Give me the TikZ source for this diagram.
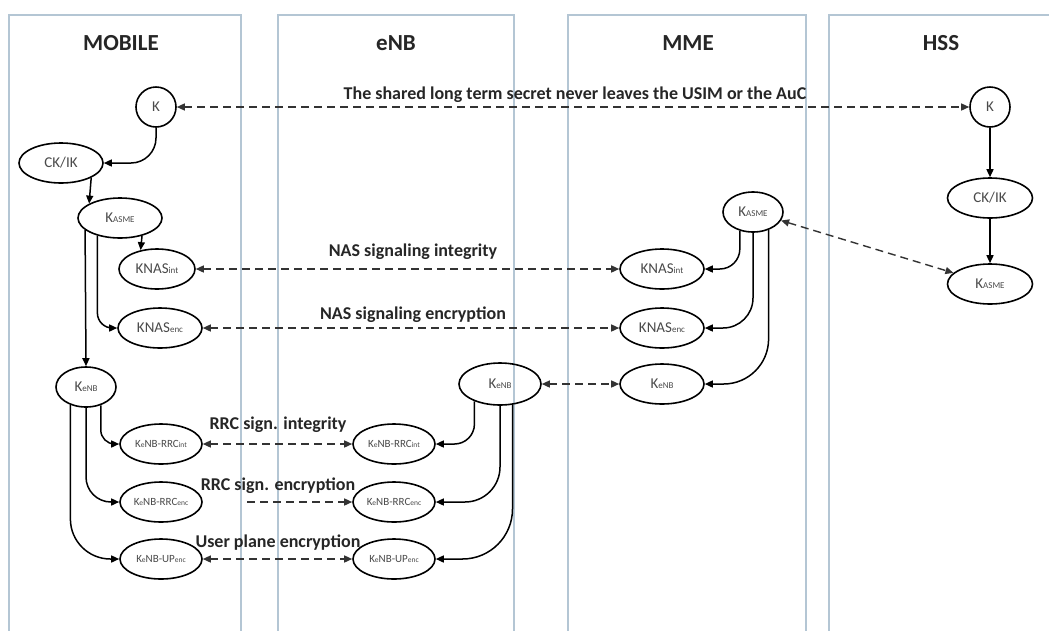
\documentclass[tikz,border=0pt]{standalone}
\usepackage{fontspec}
\setmainfont{Carlito}
\usetikzlibrary{shapes.geometric,arrows.meta}
\definecolor{lanecol}{HTML}{B4C6D4}
\definecolor{nodetxt}{HTML}{4A4A4A}
\definecolor{dashcol}{HTML}{333333}
\newcommand\ksub[1]{{\fontsize{9}{9}\selectfont #1}}
\newcommand\kssub[1]{{\fontsize{7.5}{7.5}\selectfont #1}}
\begin{document}
\begin{tikzpicture}[x=1pt,y=-1pt,
 lane/.style={draw=lanecol,line width=1.3pt},
 title/.style={font=\fontsize{23}{23}\selectfont\bfseries,text=black!85,anchor=base},
 lbl/.style={font=\fontsize{18}{18}\selectfont\bfseries,text=black!85,anchor=base},
 key/.style={ellipse,draw,line width=1.6pt,inner sep=0pt,text=nodetxt,font=\fontsize{15}{15}\selectfont,minimum width=84pt,minimum height=40pt},
 smallkey/.style={key,font=\fontsize{11}{11}\selectfont,minimum width=82pt},
 der/.style={line width=1.5pt,-{Triangle[length=8pt,width=7pt]}},
 dashline/.style={line width=1.4pt,draw=dashcol,dash pattern=on 8pt off 5pt},
 shared/.style={dashline,{Triangle[length=8pt,width=7pt]}-{Triangle[length=8pt,width=7pt]}},
 oneway/.style={dashline,-{Triangle[length=8pt,width=7pt]}}
]
\useasboundingbox (0,0) rectangle (1049,630);
\clip (0,0) rectangle (1049,630);
\fill[white] (0,0) rectangle (1049,630);

% lanes
\draw[lane] (9,640) -- (9,15) -- (241,15) -- (241,640);
\draw[lane] (278,640) -- (278,15) -- (514,15) -- (514,640);
\draw[lane] (568,640) -- (568,15) -- (806,15) -- (806,640);
\draw[lane] (829,640) -- (829,15) -- (1060,15);

% titles
\node[title] (tmob) at (121,50) {MOBILE};
\node[title] (tenb) at (396,50) {eNB};
\node[title] (tmme) at (688,50) {MME};
\node[title] (thss) at (941,50) {HSS};

% MOBILE nodes
\node[key,circle,minimum size=40pt] (kM) at (156,107) {K};
\node[key] (ckikM) at (61,163) {CK/IK};
\node[key] (kasmeM) at (120,218) {K\ksub{ASME}};
\node[key,minimum width=76pt] (knasintM) at (157,269) {KNAS\ksub{int}};
\node[key] (knasencM) at (160,328) {KNAS\ksub{enc}};
\node[key,minimum width=60pt] (kenbM) at (86,387) {K\ksub{eNB}};
\node[smallkey] (rrcintM) at (161,444) {K\kssub{e}NB-RRC\kssub{int}};
\node[smallkey] (rrcencM) at (161,502) {K\kssub{e}NB-RRC\kssub{enc}};
\node[smallkey] (upencM) at (161,559) {K\kssub{e}NB-UP\kssub{enc}};

% eNB nodes
\node[key,minimum width=82pt,minimum height=42pt] (kenbE) at (500,384) {K\ksub{eNB}};
\node[smallkey] (rrcintE) at (394,444) {K\kssub{e}NB-RRC\kssub{int}};
\node[smallkey] (rrcencE) at (394,502) {K\kssub{e}NB-RRC\kssub{enc}};
\node[smallkey] (upencE) at (394,559) {K\kssub{e}NB-UP\kssub{enc}};

% MME nodes
\node[key,minimum width=60pt] (kasmeMME) at (753,212) {K\ksub{ASME}};
\node[key] (knasintMME) at (662,269) {KNAS\ksub{int}};
\node[key] (knasencMME) at (662,328) {KNAS\ksub{enc}};
\node[key] (kenbMME) at (662,384) {K\ksub{eNB}};

% HSS nodes
\node[key,circle,minimum size=40pt] (kH) at (990,107) {K};
\node[key,minimum width=85pt] (ckikH) at (990,198) {CK/IK};
\node[key,minimum width=85pt] (kasmeH) at (990,284) {K\ksub{ASME}};

% derivations MOBILE
\draw[der,rounded corners=25pt] (kM.south) |- (ckikM.east);
\draw[der] (ckikM.-26.6) -- (kasmeM.155);
\draw[der] (kasmeM.-39.5) -- (knasintM.131.5);
\draw[der,rounded corners=15pt] (kasmeM.-142) |- (knasencM.west);
\draw[der] (kasmeM.-161) -- (kenbM.north);
\draw[der,rounded corners=14pt] (kenbM.-51.7) |- (rrcintM.west);
\draw[der,rounded corners=25pt] (kenbM.south) |- (rrcencM.west);
\draw[der,rounded corners=40pt] (kenbM.-131) |- (upencM.west);

% derivations eNB
\draw[der,rounded corners=20pt] (kenbE.-146.4) |- (rrcintE.east);
\draw[der,rounded corners=35pt] (kenbE.south) |- (rrcencE.east);
\draw[der,rounded corners=50pt] (kenbE.-59) |- (upencE.east);

% derivations MME
\draw[der,rounded corners=20pt] (kasmeMME.-125.8) |- (knasintMME.east);
\draw[der,rounded corners=30pt] (kasmeMME.south) |- (knasencMME.east);
\draw[der,rounded corners=45pt] (kasmeMME.-49) |- (kenbMME.east);

% derivations HSS
\draw[der] (kH) -- (ckikH);
\draw[der] (ckikH) -- (kasmeH);

% shared keys
\draw[shared] (kM) -- (kH);
\draw[shared] (knasintM) -- (knasintMME);
\draw[shared] (knasencM) -- (knasencMME);
\draw[shared] (kenbE) -- (kenbMME);
\draw[shared] (rrcintM) -- (rrcintE);
\coordinate (rrcencstart) at (247,502);
\draw[oneway] (rrcencstart) -- (rrcencE);
\draw[shared] (upencM) -- (upencE);
\draw[shared] (kasmeMME) -- (kasmeH);

% labels
\node[lbl] (lk) at (575,99) {The shared long term secret never leaves the USIM or the AuC};
\node[lbl] (lnasi) at (413,256) {NAS signaling integrity};
\node[lbl] (lnase) at (413,319) {NAS signaling encryption};
\node[lbl] (lrrci) at (278,429) {RRC sign. integrity};
\node[lbl] (lrrce) at (278,490) {RRC sign. encryption};
\node[lbl] (lup) at (278,547) {User plane encryption};
\end{tikzpicture}
\end{document}
